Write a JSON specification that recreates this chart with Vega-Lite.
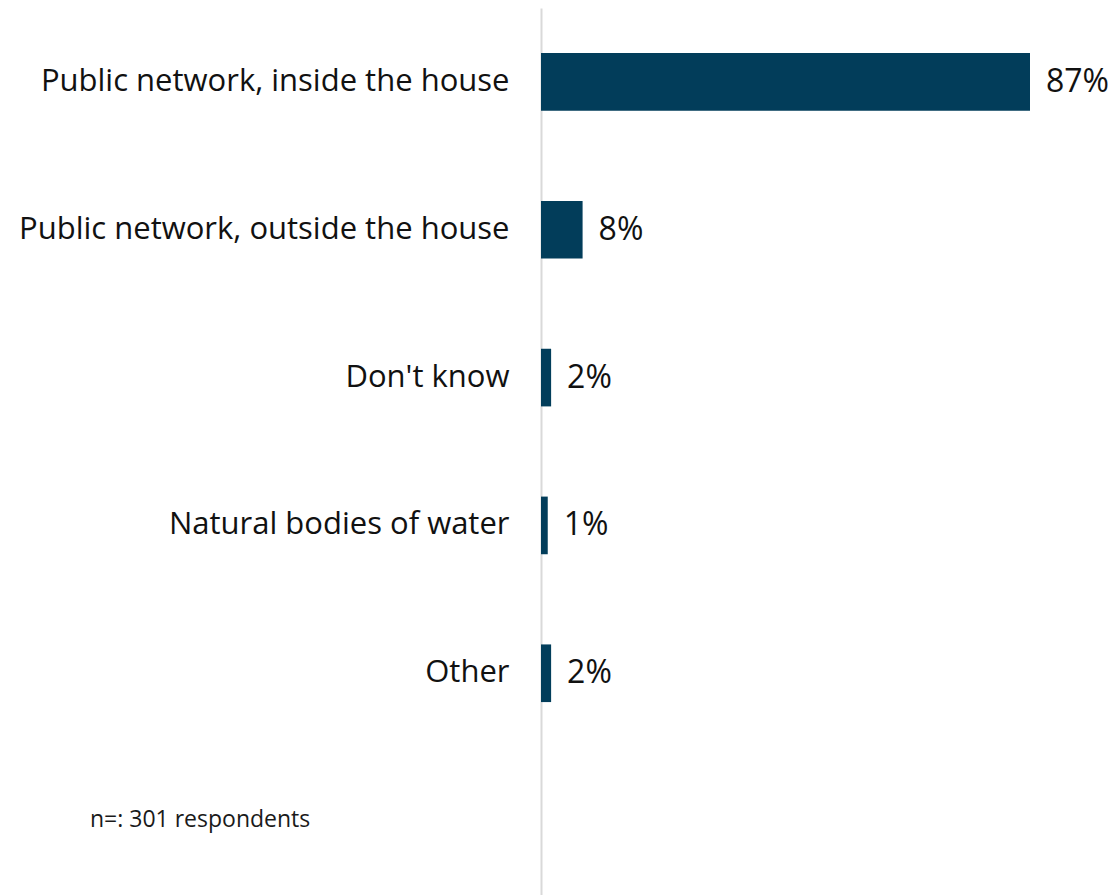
{
  "$schema": "https://vega.github.io/schema/vega-lite/v6.json",
  "autosize": "none",
  "padding": {"left": 541, "top": 8, "right": 89, "bottom": 0},
  "width": 489,
  "height": 887,
  "background": "white",
  "config": {"view": {"stroke": null}, "font": "Open Sans"},
  "title": {
    "text": "n=: 301 respondents",
    "orient": "bottom",
    "anchor": "start",
    "frame": "group",
    "offset": 0,
    "dx": -451,
    "dy": -86,
    "fontSize": 23,
    "fontWeight": "normal",
    "color": "#1a1a1a",
    "font": "Open Sans"
  },
  "data": {
    "values": [
      {"category": "Public network, inside the house", "value": 87, "label": "87%"},
      {"category": "Public network, outside the house", "value": 7.4, "label": "8%"},
      {"category": "Don't know", "value": 1.8, "label": "2%"},
      {"category": "Natural bodies of water", "value": 1.2, "label": "1%"},
      {"category": "Other", "value": 1.8, "label": "2%"}
    ]
  },
  "encoding": {
    "y": {
      "field": "category",
      "type": "nominal",
      "scale": {
        "domain": ["Public network, inside the house", "Public network, outside the house", "Don't know", "Natural bodies of water", "Other", " "],
        "paddingInner": 0.61,
        "paddingOuter": 0.305
      },
      "axis": {
        "title": null,
        "ticks": false,
        "domain": true,
        "domainColor": "#d9d9d9",
        "domainWidth": 2,
        "labelFontSize": 31,
        "labelColor": "#111111",
        "labelPadding": 32,
        "labelLimit": 600,
        "labelFont": "Open Sans"
      }
    },
    "x": {
      "field": "value",
      "type": "quantitative",
      "scale": {"domain": [0, 87], "nice": false, "zero": true},
      "axis": null
    }
  },
  "layer": [
    {"mark": {"type": "bar", "color": "#023d5a"}},
    {
      "mark": {"type": "text", "align": "left", "baseline": "middle", "dx": 16, "fontSize": 32, "color": "#111111", "font": "Open Sans"},
      "encoding": {"text": {"field": "label"}}
    }
  ]
}
